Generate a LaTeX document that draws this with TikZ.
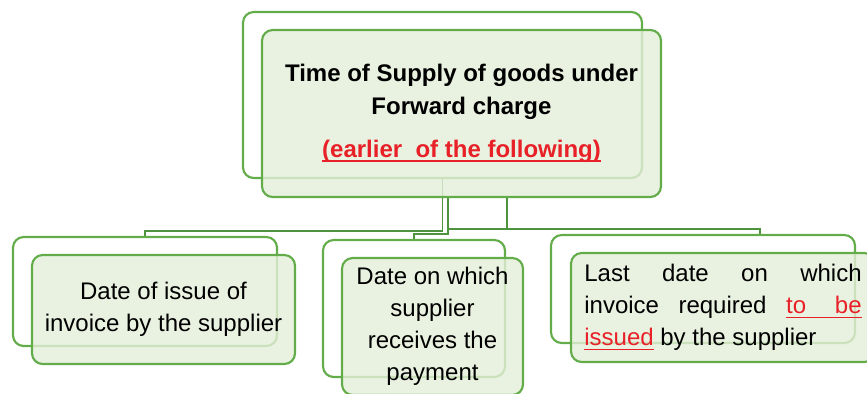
\documentclass[tikz,border=0pt]{standalone}
\usepackage{fontspec}
\setmainfont{Liberation Sans}
\usetikzlibrary{calc,backgrounds}
\definecolor{boxgreen}{RGB}{98,172,74}
\definecolor{boxfill}{RGB}{228,239,217}
\definecolor{linkgreen}{RGB}{78,148,62}
\definecolor{notered}{RGB}{232,32,40}
\newcommand{\markline}[1]{{\color{notered}\setbox0\hbox{#1}\rlap{\rule[-3.5pt]{\wd0}{1.4pt}}\box0}}

\begin{document}
\begin{tikzpicture}[x=0.75pt,y=-0.75pt,
	backbox/.style={draw=boxgreen,line width=1.6pt,rounded corners=8pt},
	frontbox/.style={draw=boxgreen,line width=1.6pt,rounded corners=8pt,fill=boxfill,fill opacity=0.8,text opacity=1},
	link/.style={draw=linkgreen,line width=1.4pt},
	every node/.style={font=\fontsize{18}{24}\selectfont}]
		\useasboundingbox (0,0) rectangle (867,393);

		\node[backbox, minimum width=299.25pt, minimum height=124.5pt] (topB) at (442.5,95) {};
		\node[frontbox, minimum width=299.25pt, minimum height=125.25pt, align=center,
			font=\bfseries\fontsize{18}{24.75}\selectfont] (topF) at (461.5,113.5)
			{Time of Supply of goods under\\Forward charge\\[7pt]\markline{(earlier\ \ of the following)}};

		\node[backbox, minimum width=198pt, minimum height=81.75pt] (leftB) at (145,291.5) {};
		\node[frontbox, minimum width=197.25pt, minimum height=81.75pt, align=center] (leftF) at (163.5,309.5)
			{Date of issue of\\invoice by the supplier};

		\node[backbox, minimum width=136.5pt, minimum height=102.75pt] (midB) at (414,308.5) {};
		\node[frontbox, minimum width=135.75pt, minimum height=102.75pt, align=center] (midF) at (432.5,326.5)
			{Date on which\\supplier\\receives the\\payment};

		\node[backbox, minimum width=228pt, minimum height=81pt] (rightB) at (703,289) {};
		\node[frontbox, minimum width=228pt, minimum height=81.75pt, text width=208pt, inner xsep=10pt,
			align=justify] (rightF) at (723,307.5)
			{Last date on which\linebreak invoice required \markline{to\hspace{1.2em}be}\linebreak
			\markline{issued} by the supplier};

		\begin{pgfonlayer}{background}
		\draw[link] (topB.south) -- ++(0,52) -| (leftB.north);
		\draw[link] ($(topF.south)+(-13.5,0)$) -- ++(0,36) -| (midB.north);
		\draw[link] ($(topF.south)+(-13.5,31)$) -| ($(rightB.north)+(57,0)$);
		\draw[link] ($(topF.south)+(45.5,0)$) -- ++(0,31);
		\end{pgfonlayer}
	\end{tikzpicture}
\end{document}
